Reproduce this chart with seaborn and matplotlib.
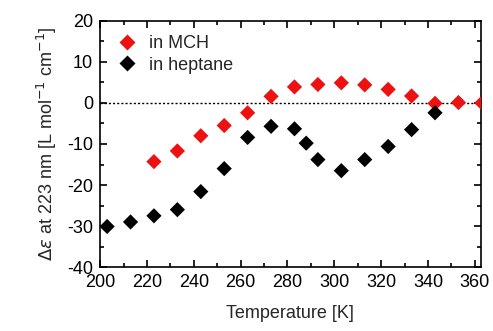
import matplotlib
matplotlib.use("Agg")
import matplotlib.pyplot as plt
import seaborn as sns
import pandas as pd
from matplotlib.ticker import MultipleLocator

mch_T = [223, 233, 243, 253, 263, 273, 283, 293, 303, 313, 323, 333, 343, 353, 363]
mch_de = [-14.3, -11.7, -8.0, -5.5, -2.4, 1.6, 3.9, 4.5, 4.9, 4.4, 3.3, 1.7, -0.1, 0.1, 0.0]

hep_T = [203, 213, 223, 233, 243, 253, 263, 273, 283, 288, 293, 303, 313, 323, 333, 343]
hep_de = [-30.1, -29.0, -27.5, -26.0, -21.6, -16.0, -8.4, -5.7, -6.3, -9.8, -13.8, -16.5, -13.8, -10.6, -6.5, -2.4]

df = pd.concat([
    pd.DataFrame({"T": mch_T, "de": mch_de, "solvent": "in MCH"}),
    pd.DataFrame({"T": hep_T, "de": hep_de, "solvent": "in heptane"}),
])

sns.set_style("ticks")
plt.rcParams['font.family'] = ['Liberation Sans', 'DejaVu Sans']
plt.rcParams['axes.unicode_minus'] = False

fig = plt.figure(figsize=(4.93, 3.31), dpi=100)
ax = fig.add_axes([0.203, 0.193, 0.772, 0.744])

ax.axhline(0, color="black", linestyle=(0, (1.5, 1.5)), linewidth=1, zorder=1)
sns.scatterplot(data=df, x="T", y="de", hue="solvent", style="solvent",
                markers={"in MCH": "D", "in heptane": "D"},
                palette={"in MCH": "#ee1111", "in heptane": "black"},
                s=60, edgecolor="none", ax=ax, zorder=3, legend=True)

ax.set_xlim(200, 362.5)
ax.set_ylim(-40, 20)
ax.xaxis.set_major_locator(MultipleLocator(20))
ax.xaxis.set_minor_locator(MultipleLocator(10))
ax.yaxis.set_major_locator(MultipleLocator(10))
ax.yaxis.set_minor_locator(MultipleLocator(5))
ax.tick_params(which="both", direction="in", top=True, right=True, colors="black",
               labelsize=13, width=1.2)
ax.tick_params(which="major", length=5, pad=5)
ax.tick_params(which="minor", length=3)
for sp in ax.spines.values():
    sp.set_visible(True)
    sp.set_color("black")
    sp.set_linewidth(1.2)

ax.set_xlabel("Temperature [K]", fontsize=13, labelpad=10)
ax.set_ylabel(r"$\Delta\varepsilon$ at 223 nm [L mol$^{-1}$ cm$^{-1}$]", fontsize=13, labelpad=6)

leg = ax.legend(loc="upper left", frameon=False, fontsize=13, handletextpad=0.5,
                borderaxespad=0.4, labelspacing=0.25, markerscale=1.1, handlelength=1.4)

fig.savefig("out.png", dpi=100)
